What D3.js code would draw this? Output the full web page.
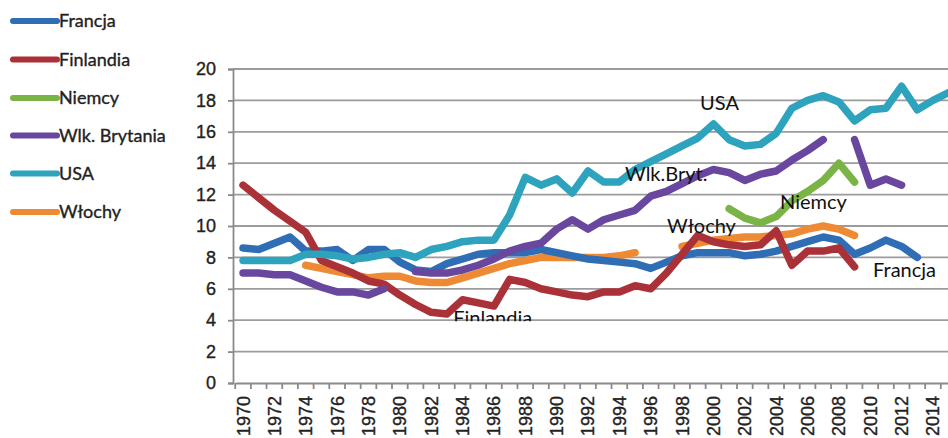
<!DOCTYPE html>
<html>
<head>
<script src="https://cdnjs.cloudflare.com/ajax/libs/d3/7.8.5/d3.min.js"></script>
  <meta charset="utf-8">
  <title>Wykres</title>
</head>
<style>
body { margin: 0; background: #fff; }
svg { font-family: Lato, "Open Sans", sans-serif; }
.tick text { font-size: 18px; fill: #222; stroke: #222; stroke-width: 0.35px; }
.legend text { font-size: 18px; fill: #222; stroke: #222; stroke-width: 0.35px; }
.label { font-size: 20px; fill: #111; }
</style>
<body>
<script>

var years = d3.range(1970, 2016);
var yTicks = [0, 2, 4, 6, 8, 10, 12, 14, 16, 18, 20];

// null = brak danych (przerwa w linii)
var francja = [8.6, 8.5, 8.9, 9.3, 8.4, 8.4, 8.5, 7.8, 8.5, 8.5, 7.7, 7.2, 7.1, 7.6, 7.9, 8.2,
  8.3, 8.3, 8.3, 8.5, 8.3, 8.1, 7.9, 7.8, 7.7, 7.6, 7.3, 7.7, 8.1, 8.3, 8.3, 8.3,
  8.1, 8.2, 8.4, 8.7, 9.0, 9.3, 9.1, 8.2, 8.6, 9.1, 8.7, 8.0, null, null];
var finlandia = [12.6, 11.8, 11.0, 10.3, 9.6, 7.8, 7.4, 7.0, 6.5, 6.3, 5.6, 5.0, 4.5, 4.4, 5.3, 5.1,
  4.9, 6.6, 6.4, 6.0, 5.8, 5.6, 5.5, 5.8, 5.8, 6.2, 6.0, 7.0, 8.2, 9.4, 9.0, 8.8,
  8.7, 8.8, 9.7, 7.5, 8.4, 8.4, 8.6, 7.4, null, null, null, null, null, null];
var niemcy = [null, null, null, null, null, null, null, null, null, null, null, null, null, null, null, null,
  null, null, null, null, null, null, null, null, null, null, null, null, null, null, null, 11.1,
  10.5, 10.2, 10.6, 11.6, 12.2, 12.9, 14.0, 12.8, null, null, null, null, null, null];
var wlkBrytania = [7.0, 7.0, 6.9, 6.9, 6.5, 6.1, 5.8, 5.8, 5.6, 6.0, null, 7.1, 7.0, 7.0, 7.2, 7.5,
  7.9, 8.4, 8.7, 8.9, 9.8, 10.4, 9.8, 10.4, 10.7, 11.0, 11.9, 12.2, 12.7, 13.2, 13.6, 13.4,
  12.9, 13.3, 13.5, 14.2, 14.8, 15.5, null, 15.5, 12.6, 13.0, 12.6, null, null, null];
var usa = [7.8, 7.8, 7.8, 7.8, 8.2, 8.2, 8.1, 7.9, 8.0, 8.2, 8.3, 8.0, 8.5, 8.7, 9.0, 9.1,
  9.1, 10.7, 13.1, 12.6, 13.0, 12.1, 13.5, 12.8, 12.8, 13.6, 14.1, 14.6, 15.1, 15.6, 16.5, 15.5,
  15.1, 15.2, 15.9, 17.5, 18.0, 18.3, 17.9, 16.7, 17.4, 17.5, 18.9, 17.4, 18.0, 18.5];
var wlochy = [null, null, null, null, 7.5, 7.3, 7.1, 6.9, 6.7, 6.8, 6.8, 6.5, 6.4, 6.4, 6.7, 7.0,
  7.3, 7.6, 7.8, 8.0, 8.0, 8.0, 8.0, 8.0, 8.1, 8.3, null, null, 8.7, 8.9, 9.1, 9.2,
  9.3, 9.3, 9.4, 9.5, 9.8, 10.0, 9.8, 9.4, null, null, null, null, null, null];

var names = ["Francja", "Finlandia", "Niemcy", "Wlk. Brytania", "USA", "Włochy"];
var values = [francja, finlandia, niemcy, wlkBrytania, usa, wlochy];
var colors = ["#2f6db5", "#ab3138", "#7bb446", "#6a479e", "#2ea3bd", "#ef8a34"];
// kolejność rysowania (ostatnia na wierzchu)
var drawOrder = [5, 0, 2, 1, 3, 4];

// podpisy serii na wykresie: rok i wartość początku tekstu
var labelNames = ["USA", "Wlk.Bryt.", "Niemcy", "Włochy", "Francja", "Finlandia"];
var labelYears = [1999.15, 1994.36, 2004.25, 1997.04, 2010.18, 1983.4];
var labelValues = [17.39, 12.87, 11.08, 9.55, 6.75, 3.69];

var width = 948, height = 438;

var svg = d3.select("body").append("svg")
  .attr("width", width)
  .attr("height", height);

var x = d3.scaleBand().domain(years).range([235.2, 956.5]).padding(0);
var y = d3.scaleLinear().domain([0, 20]).range([383, 69]);
var yearX = d3.scaleLinear().domain([1970, 1971]).range([x(1970) + x.bandwidth() / 2, x(1971) + x.bandwidth() / 2]);

// siatka
svg.append("g")
  .selectAll("line")
  .data(yTicks.slice(1))
  .enter().append("line")
  .attr("x1", 233).attr("x2", width)
  .attr("y1", function(d) { return y(d); })
  .attr("y2", function(d) { return y(d); })
  .attr("stroke", "#9c9c9c")
  .attr("stroke-width", 1.8);

// oś Y
var yAxis = svg.append("g")
  .attr("transform", "translate(233,0)")
  .call(d3.axisLeft(y).tickValues(yTicks).tickSize(5).tickPadding(12));
yAxis.selectAll("line, path").attr("stroke", "#8a8a8a").attr("stroke-width", 1.8);

// oś X
var xAxis = svg.append("g")
  .attr("transform", "translate(0,383)")
  .call(d3.axisBottom(x).tickSize(0).tickFormat(function(d) { return d % 2 === 0 ? d : ""; }));
xAxis.select(".domain").attr("stroke", "#8a8a8a").attr("stroke-width", 1.8);
xAxis.selectAll(".tick text")
  .attr("transform", "rotate(-90)")
  .attr("x", -13)
  .attr("y", 0)
  .attr("dy", "0.36em")
  .style("text-anchor", "end");

svg.append("g")
  .selectAll("line")
  .data(years.concat([2016]))
  .enter().append("line")
  .attr("x1", function(d) { return d === 2016 ? x(2015) + x.bandwidth() : x(d); })
  .attr("x2", function(d) { return d === 2016 ? x(2015) + x.bandwidth() : x(d); })
  .attr("y1", 383).attr("y2", 389)
  .attr("stroke", "#8a8a8a")
  .attr("stroke-width", 1.8);

// linie
var line = d3.line()
  .defined(function(d) { return d != null; })
  .x(function(d, i) { return x(years[i]) + x.bandwidth() / 2; })
  .y(function(d) { return y(d); });

drawOrder.forEach(function(k) {
  svg.append("path")
    .attr("d", line(values[k]))
    .attr("fill", "none")
    .attr("stroke", colors[k])
    .attr("stroke-width", 7.5)
    .attr("stroke-linejoin", "round")
    .attr("stroke-linecap", "round");
});

// podpisy
svg.append("clipPath").attr("id", "cut")
  .append("rect").attr("x", 0).attr("y", 0).attr("width", width).attr("height", y(4) + 1);

svg.append("g")
  .attr("clip-path", "url(#cut)")
  .selectAll("text")
  .data(labelNames)
  .enter().append("text")
  .attr("class", "label")
  .attr("x", function(d, i) { return yearX(labelYears[i]); })
  .attr("y", function(d, i) { return y(labelValues[i]); })
  .text(function(d) { return d; });

// legenda
var legend = svg.append("g").attr("class", "legend")
  .selectAll("g")
  .data(names)
  .enter().append("g")
  .attr("transform", function(d, i) { return "translate(0," + [21, 59.5, 98, 135.5, 173.5, 212][i] + ")"; });

legend.append("line")
  .attr("x1", 13).attr("x2", 57)
  .attr("stroke", function(d, i) { return colors[i]; })
  .attr("stroke-width", 6)
  .attr("stroke-linecap", "round");

legend.append("text")
  .attr("x", 59)
  .attr("dy", "0.35em")
  .text(function(d) { return d; });

</script>
</body>
</html>
